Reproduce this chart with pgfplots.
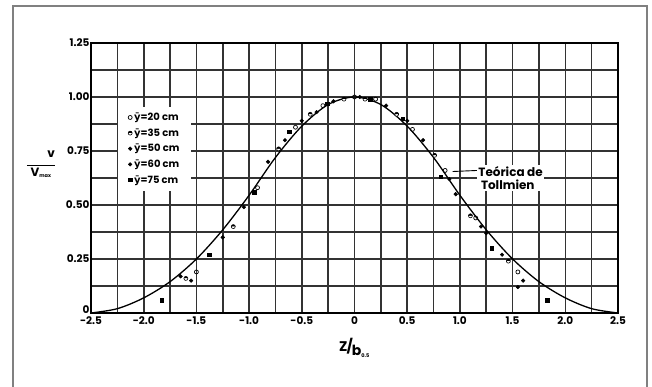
\documentclass[border=0pt]{standalone}
\usepackage{fontspec}
\setmainfont{Poppins}
\newfontfamily\djv{DejaVu Sans}
\usepackage{pgfplots}
\pgfplotsset{compat=1.18}
\newcommand{\yb}{{\djv\bfseries ȳ}}
\begin{document}
\begin{tikzpicture}[x=1pt,y=1pt]
\useasboundingbox (0,0) rectangle (652,387);
\fill[white] (0,0) rectangle (652,387);
\begin{axis}[
  at={(91pt,74pt)}, anchor=south west,
  scale only axis, width=527pt, height=270pt,
  xmin=-2.5, xmax=2.5, ymin=0, ymax=1.25,
  xtick={-2.5,-2,...,2.5},
  xticklabels={-2.5,-2.0,-1.5,-1.0,-0.5,0,0.5,1.0,1.5,2.0,2.5},
  minor xtick={-2.25,-1.75,...,2.25},
  ytick={0,0.25,0.5,0.75,1,1.25},
  yticklabels={\raisebox{7pt}{0},0.25,0.50,0.75,1.00,1.25},
  minor ytick={0.125,0.375,0.625,0.875,1.125},
  grid=both,
  major grid style={black!80, line width=1.6pt},
  minor grid style={black!80, line width=1.6pt},
  axis line style={black, line width=1.8pt},
  tick style={draw=none},
  /pgf/number format/assume math mode=true,
  ticklabel style={font=\fontsize{10.5}{11}\selectfont\bfseries},
  xticklabel style={yshift=0pt},
  yticklabel style={xshift=2pt},
  xlabel={\fontsize{14}{15}\selectfont\bfseries Z\kern-1pt/\kern-1pt\raisebox{-4pt}{b\textsubscript{\tiny 0.5}}},
  xlabel style={at={(axis cs:0,0)}, anchor=north, yshift=-22pt},
  ylabel={\fontsize{12}{13}\selectfont\bfseries\begin{tabular}{@{}c@{}}\hfill v\\[-4pt]\rule{28pt}{0.6pt}\\[-3pt] V\textsubscript{\tiny max}\end{tabular}},
  ylabel style={at={(axis cs:-2.5,0.69)}, rotate=-90, anchor=center, xshift=-50pt},
  legend style={at={(axis cs:-2.244,0.955)}, anchor=north west, draw=none, fill=white,
    font=\fontsize{10}{11}\selectfont\bfseries, row sep=2.5pt, inner xsep=10pt, inner ysep=4pt,
    legend cell align=left, /tikz/every even column/.append style={column sep=2pt}},
  legend image code/.code={\draw[#1] plot coordinates {(3pt,0pt)};},
]
\addplot[only marks, mark=o, mark size=2pt, line width=0.7pt, black] coordinates {
(-1.50,0.19) (-0.92,0.58) (-0.56,0.86) (-0.30,0.96) (0.00,1.00) (0.20,0.99)
(0.55,0.85) (0.86,0.66) (1.15,0.44) (1.55,0.19)};
\addlegendentry{\yb=20 cm}
\addplot[only marks, mark=halfcircle*, mark size=2pt, line width=0.6pt, black] coordinates {
(-1.60,0.16) (-1.15,0.40) (-0.72,0.76) (-0.42,0.92) (-0.10,0.99) (0.10,0.99)
(0.40,0.92) (0.76,0.73) (1.10,0.45) (1.46,0.24)};
\addlegendentry{\yb=35 cm}
\addplot[only marks, mark=*, mark size=1.9pt, black] coordinates {
(-1.65,0.17) (-1.25,0.35) (-0.82,0.70) (-0.50,0.89) (-0.20,0.98) (0.30,0.96)
(0.65,0.80) (0.96,0.55) (1.25,0.37) (1.60,0.15)};
\addlegendentry{\yb=50 cm}
\addplot[only marks, mark=*, mark size=1.8pt, black] coordinates {
(-1.55,0.15) (-1.05,0.49) (-0.66,0.80) (-0.36,0.93) (0.05,1.00) (0.50,0.89)
(0.90,0.62) (1.20,0.40) (1.40,0.27) (1.55,0.12)};
\addlegendentry{\yb=60 cm}
\addplot[only marks, mark=square*, mark size=1.7pt, black] coordinates {
(-1.83,0.06) (-1.38,0.27) (-0.95,0.56) (-0.62,0.84) (-0.26,0.97) (0.15,0.99)
(0.46,0.90) (0.82,0.63) (1.30,0.30) (1.83,0.06)};
\addlegendentry{\yb=75 cm}
\addplot[smooth, black, line width=1.3pt, forget plot] coordinates {
(-2.5,0.0) (-2.25,0.02) (-2.0,0.07) (-1.75,0.145) (-1.5,0.25) (-1.25,0.385)
(-1.0,0.545) (-0.75,0.72) (-0.5,0.865) (-0.25,0.965) (0,1.0)
(0.25,0.965) (0.5,0.865) (0.75,0.72) (1.0,0.545) (1.25,0.385) (1.5,0.25)
(1.75,0.145) (2.0,0.07) (2.25,0.02) (2.5,0.0)};
\draw[black, line width=0.9pt] (axis cs:0.93,0.655) -- (axis cs:1.17,0.66);
\node[fill=white, anchor=west, align=left, inner sep=1.5pt,
  font=\fontsize{12}{13}\selectfont\bfseries] at (axis cs:1.16,0.625)
  {Teórica de\\\ Tollmien};
\end{axis}
\draw[gray, line width=2pt] (13,-5) -- (13,381) -- (647,381) -- (647,-5);
\end{tikzpicture}
\end{document}
